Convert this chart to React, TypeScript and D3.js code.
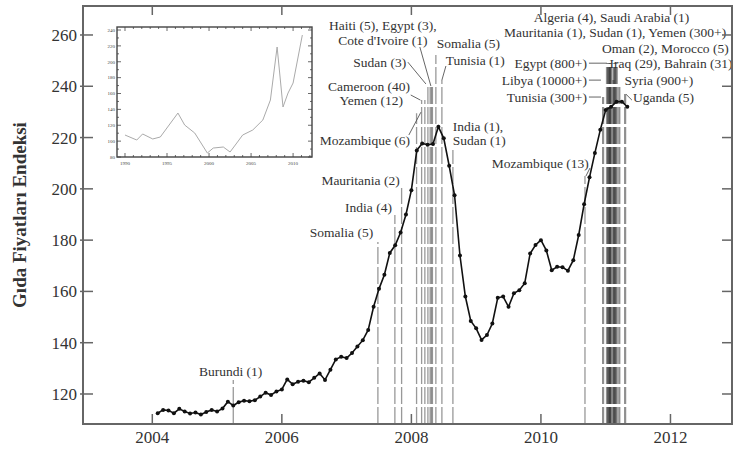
import React from 'react';
import * as d3 from 'd3';

const W = 741;
const H = 449;

// FAO food price index, monthly, Feb 2004 .. May 2011
const firstMonth = 2004 + 1 / 12;
const foodIndex = [
  112.5, 113.8, 113.6, 112.5, 114.2, 113.2, 112.4, 112.8, 112.0, 113.0, 113.8,
  113.2, 114.3, 117.0, 115.5, 116.8, 117.4, 117.2, 117.6, 119.0, 120.5, 119.6, 121.0,
  121.8, 125.7, 123.8, 124.8, 125.2, 124.6, 126.3, 128.0, 125.5, 129.5, 133.5, 134.5,
  134.0, 136.0, 138.5, 141.0, 145.0, 154.0, 161.0, 166.5, 175.0, 178.0, 183.0, 190.0,
  199.5, 215.0, 217.7, 217.2, 217.5, 224.2, 219.7, 209.0, 197.5, 174.0, 158.0, 148.5,
  145.6, 141.1, 143.0, 147.5, 157.5, 158.0, 154.0, 159.3, 160.5, 163.2, 174.8, 178.1,
  180.0, 176.0, 168.3, 169.6, 169.4, 168.1, 172.2, 182.0, 194.0, 204.5, 214.0, 223.0,
  230.7, 232.0, 234.0, 234.0, 232.0,
];

const yTicks = [120, 140, 160, 180, 200, 220, 240, 260];
const xTicks = [2004, 2006, 2008, 2010, 2012];

// riots: date and the index level where the marker line stops
const riotDates = [
  2005.25, 2007.483, 2007.745, 2007.849, 2008.08, 2008.158, 2008.208, 2008.255, 2008.29,
  2008.31, 2008.325, 2008.378, 2008.471, 2008.641, 2010.68,
  2010.96, 2011.02, 2011.04, 2011.05, 2011.065, 2011.08, 2011.07, 2011.12, 2011.14,
  2011.15, 2011.17, 2011.12, 2011.21, 2011.3,
];
const riotTops = [
  125.5, 179.3, 189.8, 200.3, 229.5, 234.6, 234.6, 240.9, 240.1,
  240.1, 240.1, 252.2, 242.4, 215.1, 205.0,
  235.8, 249, 249, 249, 249, 249, 249, 249, 249,
  249, 249, 242.4, 240, 237,
];

const labelTexts = [
  'Burundi (1)', 'Somalia (5)', 'India (4)', 'Mauritania (2)', 'Mozambique (6)',
  'Cameroon (40)', 'Yemen (12)', 'Sudan (3)', 'Haiti (5), Egypt (3),', "Cote d'Ivoire (1)",
  'Somalia (5)', 'Tunisia (1)', 'India (1),', 'Sudan (1)', 'Mozambique (13)',
  'Algeria (4), Saudi Arabia (1)', 'Mauritania (1), Sudan (1), Yemen (300+)',
  'Oman (2), Morocco (5)', 'Egypt (800+)', 'Iraq (29), Bahrain (31)', 'Libya (10000+)',
  'Syria (900+)', 'Tunisia (300+)', 'Uganda (5)',
];
const labelAt: [number, number, string][] = [
  [2005.21, 128.8, 'middle'], [2007.41, 183.2, 'end'], [2007.70, 192.9, 'end'],
  [2007.82, 203.4, 'end'], [2007.98, 219.0, 'end'], [2007.98, 240.1, 'end'],
  [2007.87, 234.6, 'end'], [2007.92, 249.4, 'end'], [2007.56, 263.9, 'middle'],
  [2007.56, 258.0, 'middle'], [2008.39, 256.8, 'start'], [2008.53, 250.2, 'start'],
  [2008.64, 224.5, 'start'], [2008.64, 219.0, 'start'], [2010.74, 209.9, 'end'],
  [2011.09, 267.0, 'middle'], [2012.86, 261.1, 'end'], [2012.90, 254.9, 'end'],
  [2010.71, 249.0, 'end'], [2011.06, 249.0, 'start'], [2010.71, 242.4, 'end'],
  [2011.29, 242.4, 'start'], [2010.71, 235.8, 'end'], [2011.42, 235.8, 'start'],
];
const leaders: [number, number, number, number][] = [
  [2007.946, 249.4, 2008.224, 240.9],
  [2008.131, 255.3, 2008.301, 240.1],
  [2007.99, 236.6, 2008.14, 234.6],
  [2007.961, 221.0, 2008.147, 229.9],
  [2008.533, 247.9, 2008.471, 242.4],
  [2010.741, 249.0, 2011.019, 249.0],
  [2010.741, 242.4, 2010.927, 242.4],
  [2010.741, 235.8, 2010.927, 235.8],
  [2011.405, 234.6, 2011.313, 236.9],
  [2010.757, 208.1, 2010.695, 205.0],
];

// inset: long run index
const insetYears = [
  1990, 1991.4, 1992.1, 1993.3, 1994.2, 1996.3, 1997.1, 1998.3, 1999.8, 2000.5, 2001.7,
  2002.5, 2003.3, 2004.0, 2005.2, 2006.4, 2007.3, 2008.1, 2008.8, 2009.4, 2010.0, 2011.1,
];
const insetValues = [
  107.7, 101.4, 109, 102.7, 105.2, 135.4, 120.3, 110.2, 85, 91.3, 92.6,
  86.3, 97.6, 107.7, 114, 126.6, 151.8, 218.6, 143, 160.6, 173.2, 233.7,
];
const insetXTicks = [1990, 1995, 2000, 2005, 2010];
const insetYTicks = [80, 100, 120, 140, 160, 180, 200, 220, 240];

const serif = '"Liberation Serif", "DejaVu Serif", serif';

export default function App() {
  const x = d3.scaleLinear().domain([2002.93, 2012.95]).range([83, 732]);
  const y = d3.scaleLinear().domain([108.3, 271.3]).range([424, 6]);
  const [x0, x1] = x.range();
  const [y0, y1] = y.range();

  const pts = foodIndex.map((v, i) => [firstMonth + i / 12, v] as [number, number]);
  const line = d3.line<[number, number]>().x(d => x(d[0])).y(d => y(d[1]));

  const ix = d3.scaleLinear().domain([1989.05, 2012.25]).range([117, 312]);
  const iy = d3.scaleLinear().domain([80, 243.8]).range([157, 27]);
  const insetLine = d3.line<number>().x((_, i) => ix(insetYears[i])).y(d => iy(d));
  const [ix0, ix1] = ix.range();
  const [iy0, iy1] = iy.range();
  const insetMinorX = d3.range(1990, 2013, 1);
  const insetMinorY = d3.range(80, 241, 10);

  const frame = '#666';

  return (
    <svg width={W} height={H} style={{ position: 'absolute', left: 0, top: 0, background: '#fff' }}
      fontFamily={serif}>
      <defs>
        <clipPath id="plot">
          <rect x={x0} y={y1} width={x1 - x0} height={y0 - y1} />
        </clipPath>
      </defs>

      {/* riot marker lines */}
      <g clipPath="url(#plot)">
        {riotDates.map((d, i) => (
          <line key={i} x1={x(d)} x2={x(d)} y1={y0} y2={y(riotTops[i])}
            stroke="#333" strokeOpacity={d > 2010.9 ? 0.55 : 0.5}
            strokeWidth={d > 2010.9 ? 2.2 : 1.3} strokeDasharray="17,3" />
        ))}
      </g>

      {leaders.map((l, i) => (
        <line key={i} x1={x(l[0])} y1={y(l[1])} x2={x(l[2])} y2={y(l[3])}
          stroke="#555" strokeWidth={0.9} />
      ))}

      {/* food price index */}
      <path d={line(pts) || ''} fill="none" stroke="#111" strokeWidth={1.6} />
      {pts.map((p, i) => (
        <circle key={i} cx={x(p[0])} cy={y(p[1])} r={2} fill="#111" />
      ))}

      {labelTexts.map((t, i) => (
        <text key={i} x={x(labelAt[i][0])} y={y(labelAt[i][1])} dy="0.35em"
          textAnchor={labelAt[i][2] as any} fontSize={13.5} fill="#333">{t}</text>
      ))}

      {/* frame and ticks */}
      <rect x={x0} y={y1} width={x1 - x0} height={y0 - y1} fill="none" stroke={frame} strokeWidth={2} />
      {yTicks.map(t => (
        <g key={t}>
          <line x1={x0 - 3} x2={x0 + 10} y1={y(t)} y2={y(t)} stroke={frame} strokeWidth={1.5} />
          <line x1={x1 - 10} x2={x1} y1={y(t)} y2={y(t)} stroke={frame} strokeWidth={1.5} />
          <text x={x0 - 6} y={y(t)} dy="0.35em" textAnchor="end" fontSize={17} fill="#333">{t}</text>
        </g>
      ))}
      {xTicks.map(t => (
        <g key={t}>
          <line x1={x(t)} x2={x(t)} y1={y0} y2={y0 - 10} stroke={frame} strokeWidth={1.5} />
          <line x1={x(t)} x2={x(t)} y1={y1} y2={y1 + 9} stroke={frame} strokeWidth={1.5} />
          <text x={x(t)} y={y0 + 19} textAnchor="middle" fontSize={17} fill="#333">{t}</text>
        </g>
      ))}
      <text transform={`translate(26,${(y0 + y1) / 2}) rotate(-90)`} textAnchor="middle"
        fontSize={19} fontWeight="bold" fill="#333">Gıda Fiyatları Endeksi</text>

      {/* inset */}
      <g>
        <rect x={ix0} y={iy1} width={ix1 - ix0} height={iy0 - iy1} fill="#fff" stroke="#444" strokeWidth={1.4} />
        {insetMinorX.map(t => (
          <g key={t}>
            <line x1={ix(t)} x2={ix(t)} y1={iy0} y2={iy0 - (t % 5 === 0 ? 4 : 2)} stroke="#444" strokeWidth={0.8} />
            <line x1={ix(t)} x2={ix(t)} y1={iy1} y2={iy1 + (t % 5 === 0 ? 4 : 2)} stroke="#444" strokeWidth={0.8} />
          </g>
        ))}
        {insetMinorY.map(t => (
          <g key={t}>
            <line x1={ix0} x2={ix0 + (t % 20 === 0 ? 4 : 2)} y1={iy(t)} y2={iy(t)} stroke="#444" strokeWidth={0.8} />
            <line x1={ix1} x2={ix1 - (t % 20 === 0 ? 4 : 2)} y1={iy(t)} y2={iy(t)} stroke="#444" strokeWidth={0.8} />
          </g>
        ))}
        {insetXTicks.map(t => (
          <text key={t} x={ix(t)} y={iy0 + 8} textAnchor="middle" fontSize={5} fill="#444">{t}</text>
        ))}
        {insetYTicks.map(t => (
          <text key={t} x={ix0 - 2} y={iy(t)} dy="0.35em" textAnchor="end" fontSize={5} fill="#444">{t}</text>
        ))}
        <path d={insetLine(insetValues) || ''} fill="none" stroke="#aaa" strokeWidth={1} />
      </g>
    </svg>
  );
}
